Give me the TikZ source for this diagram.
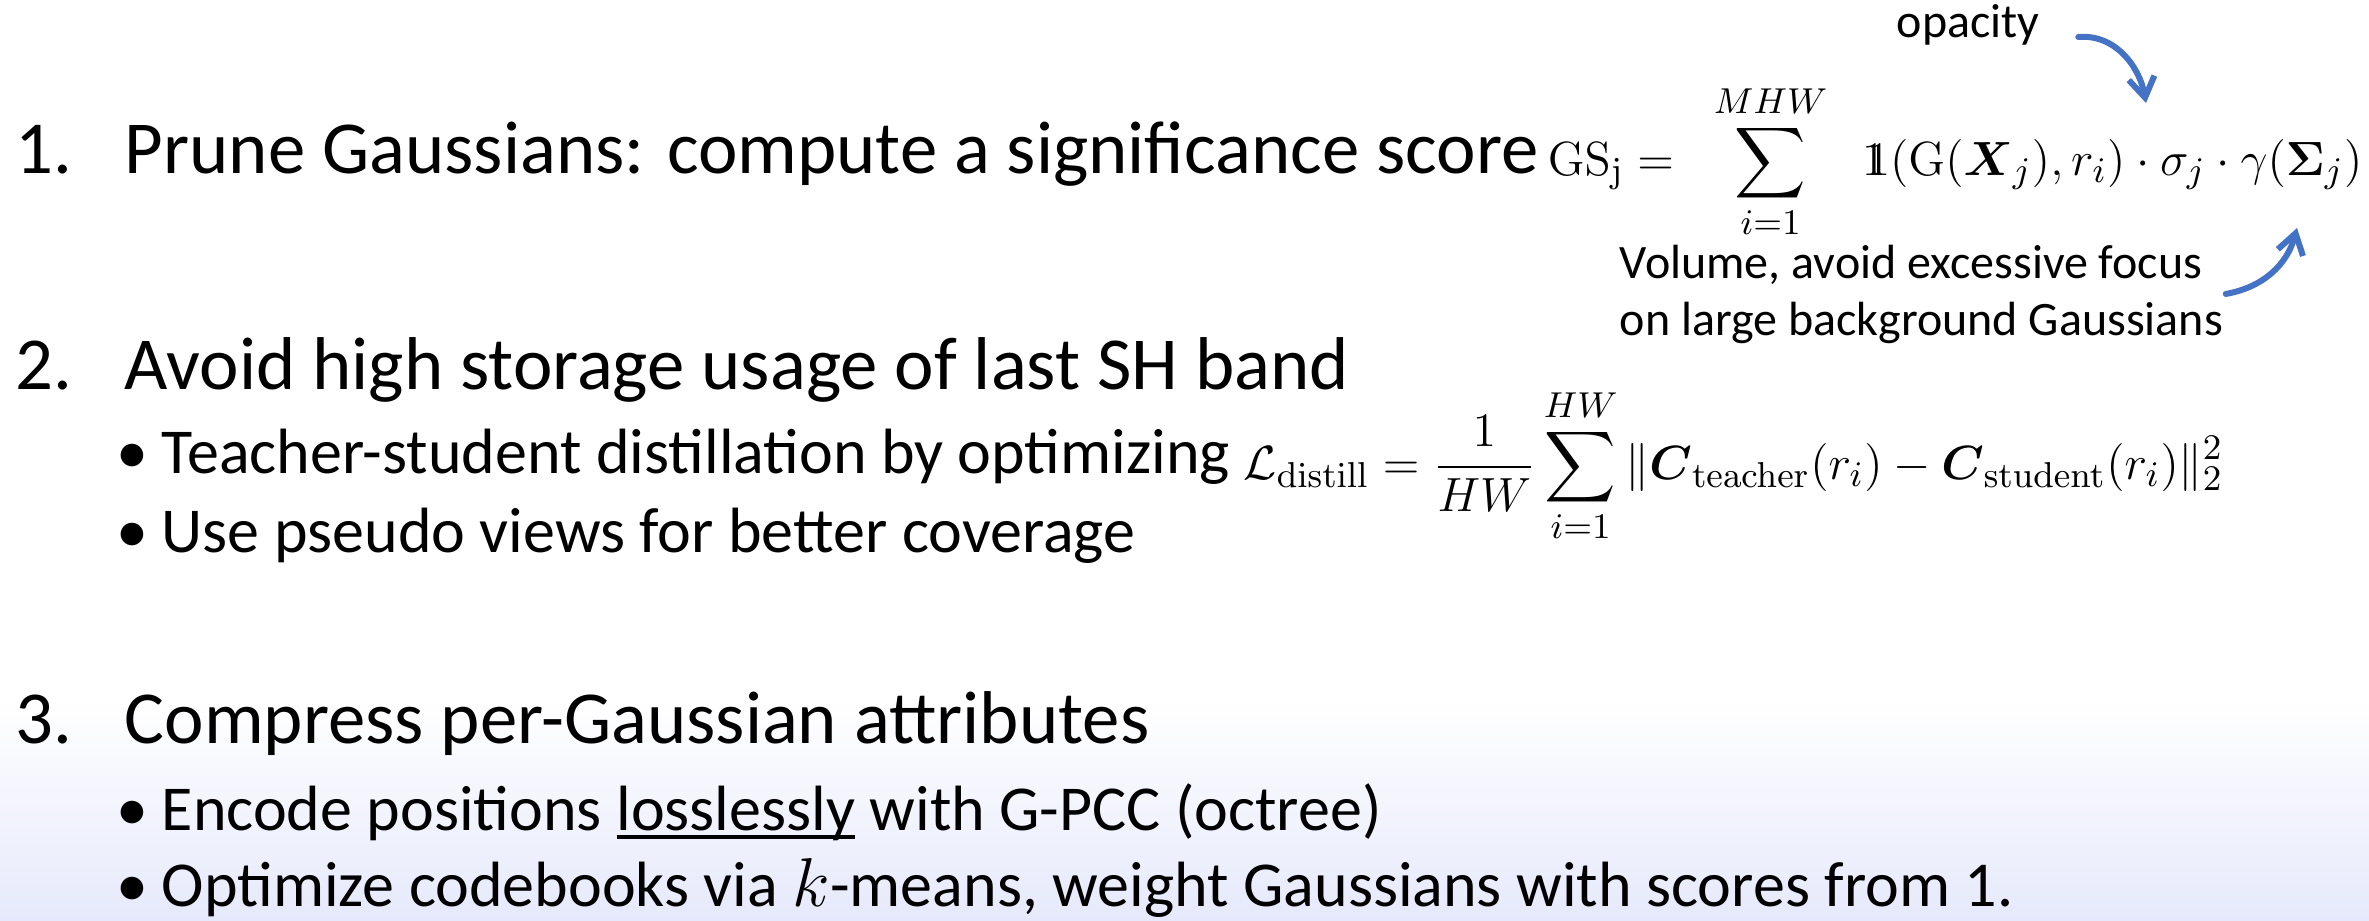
\documentclass[tikz,border=0pt]{standalone}
\usepackage{amsmath,amssymb}
\usepackage[no-math]{fontspec}
\setmainfont{Carlito}
\IfFileExists{dsfont.sty}{\usepackage{dsfont}}{\newcommand\mathds[1]{\mathrm{1}\mkern-7mu\mathrm{1}}}
\usetikzlibrary{arrows.meta,positioning}

\definecolor{arrowblue}{HTML}{4472C4}
\definecolor{footlilac}{HTML}{E6E9FB}

% thick underline as on the slide
\newcommand\lineunder[1]{\setbox0\hbox{#1}\rlap{\rule[-2.2pt]{\wd0}{1pt}}\box0\relax}

\tikzset{
  head/.style={anchor=base west, inner sep=0pt, font=\fontsize{18.7}{22}\selectfont},
  item/.style={anchor=base west, inner sep=0pt, font=\fontsize{16}{19}\selectfont},
  note/.style={anchor=base west, inner sep=0pt, font=\fontsize{12}{14.25}\selectfont, align=left},
  eq/.style={anchor=base west, inner sep=0pt, font=\fontsize{12.4}{15}\selectfont},
  hint/.style={arrowblue, line width=1.5pt, line cap=round,
    -{Straight Barb[length=5pt,width=6.5pt,line width=1.5pt]}}
}

\begin{document}
\begin{tikzpicture}[x=0.25pt,y=-0.25pt]
  \useasboundingbox (0,0) rectangle (2369,921);
  \shade[top color=white, bottom color=footlilac] (0,700) rectangle (2369,921);

  % step 1
  \node[head] (n1) at (15,173)  {1.};
  \node[head] (h1) at (124,173) {Prune Gaussians: compute a significance score};
  \node[eq]   (gs) at (1547,175)
    {$\displaystyle \mathrm{GS_j} = \;\;\sum_{i=1}^{MHW}\;\; \mathds{1}(\mathrm{G}(\boldsymbol{X}_j), r_i)\cdot\sigma_j\cdot\gamma(\boldsymbol{\Sigma}_j)$};
  \node[note] (op)  at (1896,37)  {opacity};
  \node[note] (vol) at (1619,335) {Volume, avoid excessive focus\\on large background Gaussians};
  \coordinate (sig) at (2146,103);
  \coordinate (cov) at (2297,228);
  \draw[hint] ([xshift=9.5pt]op.base east) to[out=5,in=100] (sig);
  \draw[hint] ([xshift=0.5pt]vol.east) to[out=10,in=-105] (cov);

  % step 2
  \node[head] (n2) at (15,389)  {2.};
  \node[head] (h2) at (124,389) {Avoid high storage usage of last SH band};
  \node[item] (b1) at (116,473) {\textbullet};
  \node[item] (i1) at (161,473) {Teacher-student distillation by optimizing};
  \node[eq]   (ld) at (1243,479)
    {$\displaystyle \mathcal{L}_{\mathrm{distill}} = \frac{1}{HW}\sum_{i=1}^{HW}\|\boldsymbol{C}_{\mathrm{teacher}}(r_i)-\boldsymbol{C}_{\mathrm{student}}(r_i)\|_2^2$};
  \node[item] (b2) at (116,552) {\textbullet};
  \node[item] (i2) at (161,552) {Use pseudo views for better coverage};

  % step 3
  \node[head] (n3) at (15,743)  {3.};
  \node[head] (h3) at (124,743) {Compress per-Gaussian attributes};
  \node[item] (b3) at (116,830) {\textbullet};
  \node[item] (i3) at (161,830) {Encode positions \lineunder{losslessly} with G-PCC (octree)};
  \node[item] (b4) at (116,906) {\textbullet};
  \node[item] (i4) at (161,906) {Optimize codebooks via $k$-means, weight Gaussians with scores from 1.};
\end{tikzpicture}
\end{document}
